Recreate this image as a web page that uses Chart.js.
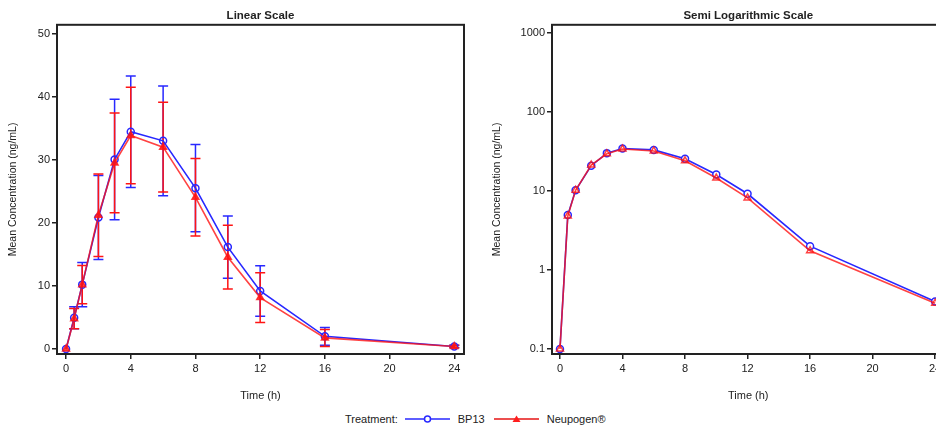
<!DOCTYPE html>
<html>
<head>
<meta charset="utf-8">
<script src="https://cdn.jsdelivr.net/npm/chart.js@4.4.0/dist/chart.umd.min.js"></script>
<style>
  html, body { margin: 0; padding: 0; background: #fff; overflow: hidden; width: 936px; height: 428px; }
  body { position: relative; font-family: "Liberation Sans", Arial, sans-serif; color: #222; }
  #linear { position: absolute; left: 0; top: 0; }
  #semilog { position: absolute; left: 470px; top: 0; }
  #legend { position: absolute; left: 345px; top: 412px; height: 14px; display: flex; align-items: center; font-size: 11px; white-space: nowrap; }
  #legend svg { margin: 0 8px 0 7px; }
</style>
</head>
<body>
<canvas id="linear" width="470" height="405"></canvas>
<canvas id="semilog" width="480" height="405"></canvas>
<div id="legend">
  <span>Treatment:</span>
  <svg width="45" height="10"><line x1="0" y1="5" x2="45" y2="5" stroke="rgb(40,40,255)" stroke-width="1.5"/><circle cx="22.5" cy="5" r="3" fill="#fff" stroke="rgb(40,40,255)" stroke-width="1.5"/></svg>
  <span style="margin-right:2px">BP13</span>
  <svg width="45" height="10"><line x1="0" y1="5" x2="45" y2="5" stroke="rgb(230,20,20)" stroke-width="1.5"/><polygon points="22.5,1.5 26.5,8 18.5,8" fill="rgb(255,30,30)"/></svg>
  <span>Neupogen®</span>
</div>
<script>
// sampling times (h)
const times = [0, 0.5, 1, 2, 3, 4, 6, 8, 10, 12, 16, 24];

// mean concentration (ng/mL) and SD
const bp13Mean = [0, 4.95, 10.2, 20.85, 30.05, 34.45, 33.0, 25.5, 16.15, 9.2, 2.0, 0.4];
const bp13Sd = [0, 1.75, 3.5, 6.65, 9.55, 8.85, 8.7, 6.9, 4.95, 4.0, 1.4, 0.2];
const neuMean = [0, 4.8, 10.2, 21.2, 29.5, 33.85, 32.0, 24.05, 14.55, 8.15, 1.75, 0.38];
const neuSd = [0, 1.6, 3.05, 6.55, 7.9, 7.65, 7.1, 6.15, 5.05, 3.95, 1.35, 0.2];

// values below quantification are shown at 0.1 on the log panel
const blqValue = 0.1;

const xTicks = [0, 4, 8, 12, 16, 20, 24];
const linTicks = [0, 10, 20, 30, 40, 50];
const logTicks = [0.1, 1, 10, 100, 1000];

const FONT = '"Liberation Sans", Arial, sans-serif';
const BLUE = 'rgb(40,40,255)';
const RED = 'rgba(255,20,20,0.8)';
const RED_SOLID = 'rgb(255,20,20)';
const INK = '#222';

const toPoints = (vals, floor) => times.map((t, i) => ({ x: t, y: floor && vals[i] <= 0 ? floor : vals[i] }));

// draws mean +/- SD whiskers from the dataset's sd array
const errorBars = {
  id: 'errorBars',
  beforeDatasetsDraw(chart) {
    const { ctx, scales: { x, y } } = chart;
    chart.data.datasets.forEach(ds => {
      if (!ds.sd) return;
      ctx.save();
      ctx.strokeStyle = ds.barColor;
      ctx.lineWidth = 1.5;
      ds.data.forEach((p, i) => {
        const s = ds.sd[i];
        if (!s) return;
        const px = x.getPixelForValue(p.x);
        const top = y.getPixelForValue(p.y + s);
        const bot = y.getPixelForValue(p.y - s);
        ctx.beginPath();
        ctx.moveTo(px, top); ctx.lineTo(px, bot);
        ctx.moveTo(px - 5, top); ctx.lineTo(px + 5, top);
        ctx.moveTo(px - 5, bot); ctx.lineTo(px + 5, bot);
        ctx.stroke();
      });
      ctx.restore();
    });
  }
};

// box round the plot area
const frame = {
  id: 'frame',
  afterDraw(chart) {
    const { ctx, chartArea: a } = chart;
    ctx.save();
    ctx.strokeStyle = INK;
    ctx.lineWidth = 2;
    ctx.strokeRect(a.left, a.top, a.right - a.left, a.bottom - a.top);
    ctx.restore();
  }
};

function makeChart(id, opts) {
  const blue = {
    label: 'BP13',
    data: toPoints(bp13Mean, opts.floor),
    sd: opts.bars ? bp13Sd : null,
    barColor: BLUE,
    borderColor: BLUE,
    backgroundColor: opts.log ? '#fff' : 'rgba(255,255,255,0)',
    borderWidth: 1.6,
    pointStyle: 'circle',
    pointRadius: 3.5,
    pointBorderWidth: 1.5,
    order: 1
  };
  const red = {
    label: 'Neupogen®',
    data: toPoints(neuMean, opts.floor),
    sd: opts.bars ? neuSd : null,
    barColor: RED_SOLID,
    borderColor: RED,
    backgroundColor: opts.log ? 'rgba(255,255,255,0)' : RED,
    borderWidth: 1.6,
    pointStyle: 'triangle',
    pointRadius: 4,
    pointBorderWidth: 1.5,
    order: 0
  };

  return new Chart(document.getElementById(id), {
    type: 'line',
    data: { datasets: [blue, red] },
    plugins: [errorBars, frame],
    options: {
      responsive: false,
      animation: false,
      devicePixelRatio: 1,
      layout: { padding: { right: opts.padRight } },
      plugins: {
        legend: { display: false },
        tooltip: { enabled: false },
        title: {
          display: true,
          fullSize: false,
          text: opts.title,
          color: INK,
          font: { family: FONT, size: 11.5, weight: 'bold' },
          padding: { top: 9, bottom: 2 }
        }
      },
      scales: {
        x: {
          type: 'linear',
          min: opts.xMin,
          max: opts.xMax,
          afterBuildTicks: s => { s.ticks = xTicks.map(v => ({ value: v })); },
          afterFit: s => { s.height = 51; },
          ticks: { color: INK, font: { family: FONT, size: 11 }, padding: 3, maxRotation: 0 },
          grid: { drawOnChartArea: false, drawTicks: true, tickLength: 5, color: INK, lineWidth: 1.5 },
          border: { display: false },
          title: { display: true, text: 'Time (h)', color: INK, font: { family: FONT, size: 11 }, padding: { top: 0, bottom: 2.4 } }
        },
        y: {
          type: opts.log ? 'logarithmic' : 'linear',
          min: opts.yMin,
          max: opts.yMax,
          afterBuildTicks: s => { s.ticks = opts.yTicks.map(v => ({ value: v })); },
          afterFit: s => { s.width = opts.yWidth; },
          ticks: { color: INK, font: { family: FONT, size: 11 }, padding: 2, callback: v => String(v) },
          grid: { drawOnChartArea: false, drawTicks: true, tickLength: 5, color: INK, lineWidth: 1.5 },
          border: { display: false },
          title: { display: true, text: 'Mean Concentration (ng/mL)', color: INK, font: { family: FONT, size: 10.5 }, padding: { top: opts.yTitlePad, bottom: 0 } }
        }
      }
    }
  });
}

makeChart('linear', {
  title: 'Linear Scale', bars: true, log: false, floor: null,
  xMin: -0.56, xMax: 24.6, yMin: -0.8, yMax: 51.4, yTicks: linTicks,
  yWidth: 57, yTitlePad: 7, padRight: 6
});

makeChart('semilog', {
  title: 'Semi Logarithmic Scale', bars: false, log: true, floor: blqValue,
  xMin: -0.51, xMax: 24.6, yMin: 0.0865, yMax: 1262, yTicks: logTicks,
  yWidth: 82, yTitlePad: 21, padRight: 2.5
});
</script>
</body>
</html>
